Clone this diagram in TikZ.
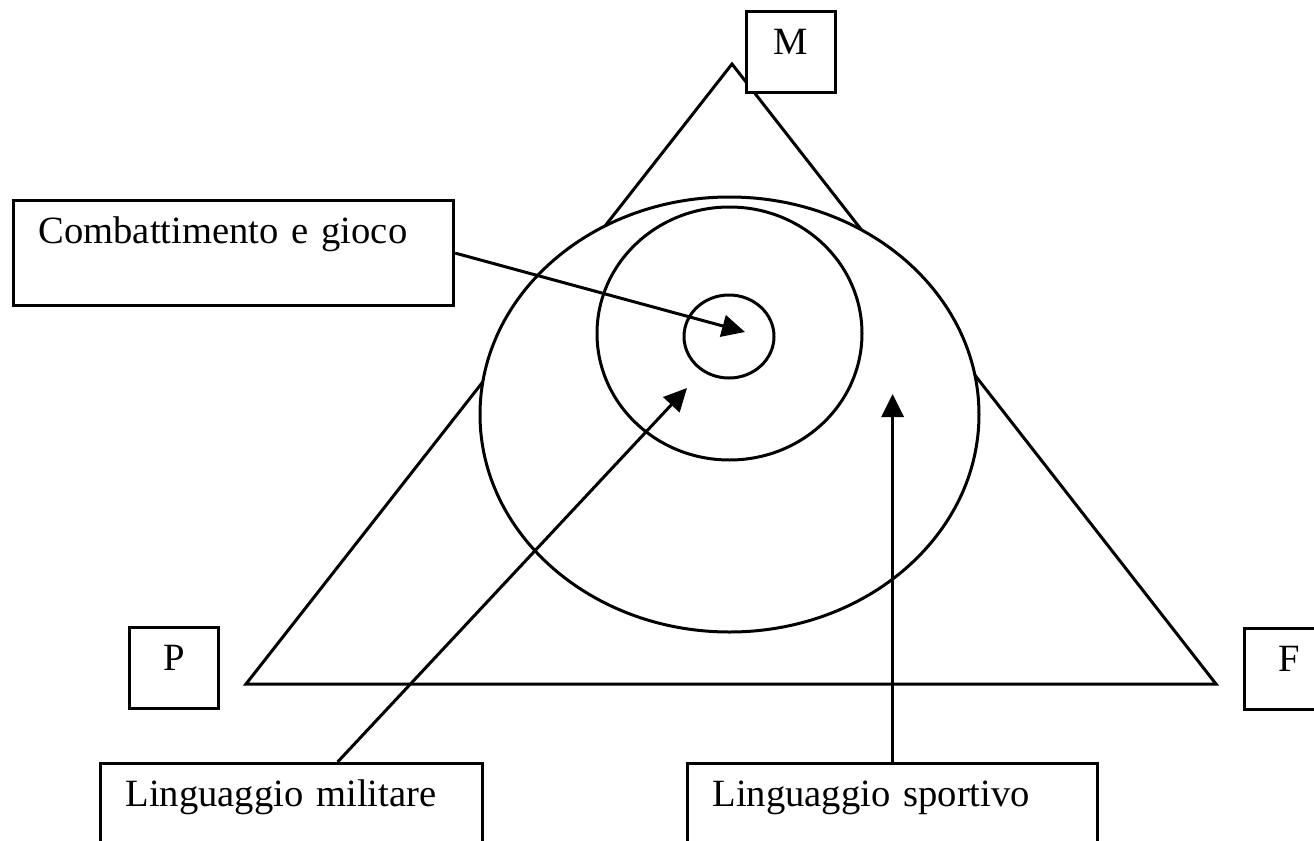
\documentclass[tikz,border=0pt]{standalone}
\usepackage{fontspec}
\setmainfont{Liberation Serif}
\usepackage{tikz}
\usetikzlibrary{shapes.geometric,arrows.meta,positioning,calc}
\tikzset{
  basefont/.style={font=\fontsize{19.3pt}{23pt}\selectfont},
  textbox/.style={rectangle,draw=black,fill=white,line width=1.6pt,
                  basefont,align=left,inner xsep=12.5pt,inner ysep=0pt,
                  text height=21.5pt,text depth=31pt},
  letterbox/.style={rectangle,draw=black,fill=white,line width=1.6pt,
                    basefont,align=center,inner sep=0pt,minimum width=44.5pt,
                    text height=21.5pt,text depth=19pt},
  ring/.style={ellipse,draw=black,fill=white,line width=1.5pt,inner sep=0pt},
  edge/.style={line width=1.5pt,line join=miter},
  pointer/.style={-{Triangle[length=11.5pt,width=11pt]},line width=1.5pt}
}
\begin{document}
\begin{tikzpicture}[x=0.5pt,y=-0.5pt]
  \useasboundingbox (0,0) rectangle (1314,841);
  \clip (0,0) rectangle (1314,841);

  % triangle
  \coordinate (apex) at (732,64);
  \coordinate (pcorner) at (246,684);
  \coordinate (fcorner) at (1216,684);
  \draw[edge] (apex) -- (fcorner) -- (pcorner) -- cycle;

  % nested rings
  \node[ring,minimum width=249.5pt,minimum height=217.5pt] (outer) at (729.5,414.5) {};
  \node[ring,minimum width=132.5pt,minimum height=126.5pt] (middle) at (729.5,333.5) {};
  \node[ring,minimum width=45pt,minimum height=41.5pt] (inner) at (729,336.5) {};

  % corner labels
  \node[letterbox,anchor=north west] (mbox) at (745,10) {M};
  \node[letterbox,anchor=north west] (pbox) at (128,626) {P};
  \node[letterbox,anchor=north west] (fbox) at (1243,627) {F};

  % text boxes
  \node[textbox,text width=195pt,anchor=north west] (combbox) at (12,199)
      {Combattimento e gioco};
  \node[textbox,text width=166pt,anchor=north west] (milbox) at (99,762)
      {Linguaggio militare};
  \node[textbox,text width=180pt,anchor=north west] (sportbox) at (686,762)
      {Linguaggio sportivo};

  % arrow tips
  \coordinate (combtip) at (745,332);
  \coordinate (miltip) at (687,388);
  \coordinate (sporttip) at (892,394);

  \draw[pointer] (combbox.east) -- (combtip);
  \draw[pointer] ([xshift=23pt]milbox.north) -- (miltip);
  \draw[pointer] (sportbox.north) -- (sportbox.north |- sporttip);
\end{tikzpicture}
\end{document}
